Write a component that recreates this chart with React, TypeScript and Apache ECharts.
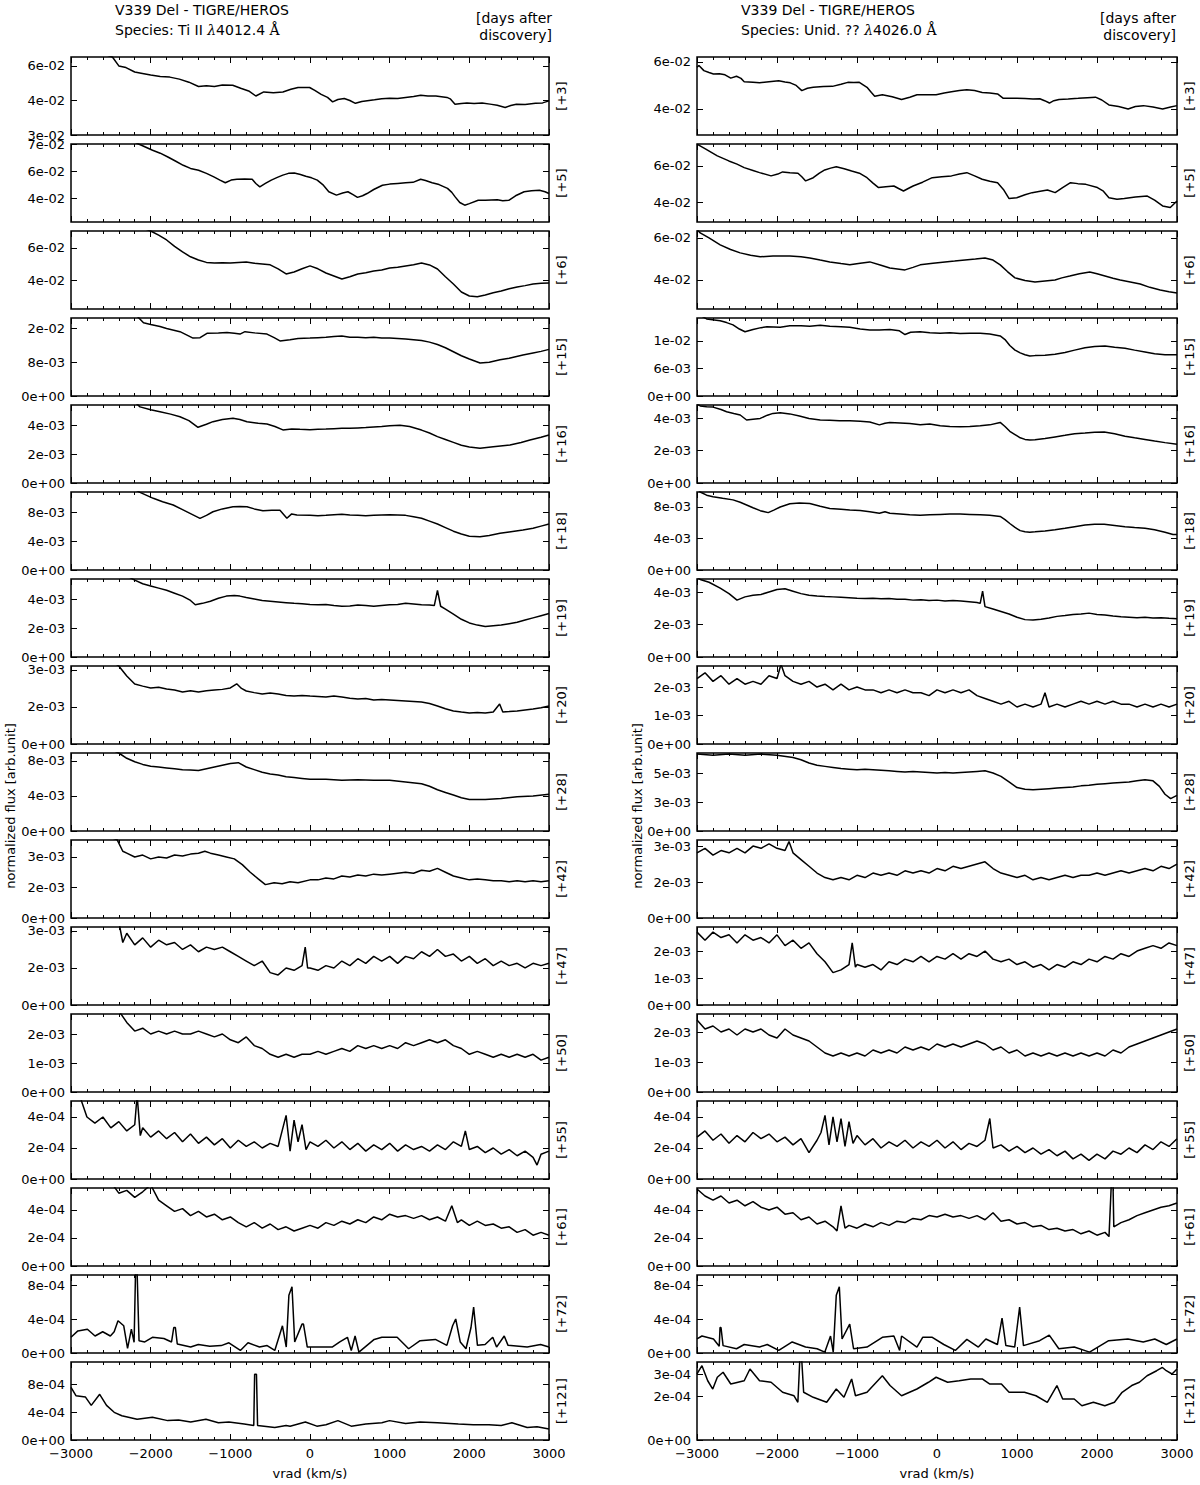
import React, { useEffect, useRef } from "react";
import * as echarts from "echarts";

// ---------- tick / label data ----------
const X_TICKS = [-3000, -2000, -1000, 0, 1000, 2000, 3000];
const DAYS = ["+3", "+5", "+6", "+15", "+16", "+18", "+19", "+20", "+28", "+42", "+47", "+50", "+55", "+61", "+72", "+121"];
const TITLE_L = "Species: Ti II {l|λ}4012.4 {a|Å}";
const TITLE_R = "Species: Unid. ?? {l|λ}4026.0 {a|Å}";

// ---------- LEFT column spectra: [vrad km/s, flux in panel unit] ----------
const L1 = [[-3000,7.5],[-2800,7.1],[-2600,6.6],[-2480,6.44],[-2400,6.0],[-2310,5.92],[-2200,5.7],[-2120,5.64],[-2000,5.55],[-1880,5.48],[-1760,5.45],[-1640,5.35],[-1520,5.2],[-1400,4.99],[-1300,5.02],[-1200,4.99],[-1100,5.06],[-970,5.05],[-870,4.9],[-770,4.77],[-680,4.52],[-580,4.72],[-460,4.68],[-340,4.72],[-240,4.85],[-150,4.94],[-5,4.94],[60,4.8],[140,4.6],[220,4.45],[284,4.23],[350,4.35],[430,4.4],[500,4.3],[570,4.16],[650,4.25],[810,4.33],[900,4.38],[1000,4.41],[1100,4.4],[1200,4.45],[1300,4.5],[1390,4.56],[1480,4.52],[1580,4.52],[1720,4.45],[1760,4.38],[1820,4.11],[1900,4.15],[1970,4.18],[2060,4.15],[2160,4.18],[2260,4.12],[2350,4.06],[2450,3.95],[2520,4.05],[2590,4.11],[2700,4.1],[2830,4.16],[2920,4.18],[3000,4.28]];
const L2 = [[-3000,8.0],[-2500,7.4],[-2144,6.8],[-1976,6.53],[-1880,6.4],[-1784,6.23],[-1690,6.05],[-1591,5.86],[-1500,5.72],[-1399,5.64],[-1300,5.5],[-1207,5.34],[-1130,5.2],[-1063,5.08],[-990,5.2],[-918,5.24],[-820,5.25],[-726,5.24],[-680,5.05],[-630,4.9],[-560,5.05],[-486,5.2],[-410,5.32],[-341,5.42],[-270,5.5],[-197,5.52],[-120,5.45],[-53,5.37],[20,5.3],[91,5.2],[160,5.0],[236,4.68],[332,4.53],[410,4.62],[476,4.68],[540,4.55],[596,4.43],[660,4.5],[716,4.6],[800,4.78],[909,4.97],[1000,5.02],[1101,5.05],[1200,5.08],[1293,5.1],[1389,5.24],[1450,5.18],[1533,5.08],[1620,5.0],[1726,4.83],[1780,4.65],[1822,4.45],[1880,4.2],[1942,4.08],[2000,4.15],[2111,4.3],[2200,4.3],[2351,4.32],[2420,4.28],[2495,4.3],[2580,4.5],[2688,4.68],[2780,4.72],[2880,4.75],[2950,4.68],[3000,4.6]];
const L3 = [[-3000,8.1],[-2400,7.8],[-2000,7.06],[-1900,6.8],[-1800,6.5],[-1700,6.1],[-1600,5.75],[-1500,5.45],[-1400,5.25],[-1300,5.1],[-1200,5.06],[-1100,5.08],[-1000,5.06],[-900,5.1],[-800,5.13],[-700,5.05],[-600,5.0],[-500,4.95],[-400,4.69],[-300,4.38],[-200,4.5],[-100,4.7],[0,4.88],[100,4.7],[200,4.44],[300,4.25],[400,4.06],[500,4.2],[600,4.38],[700,4.45],[800,4.56],[900,4.62],[1000,4.75],[1100,4.8],[1200,4.88],[1300,4.95],[1400,5.06],[1500,4.94],[1600,4.69],[1700,4.2],[1800,3.75],[1900,3.25],[2000,3.0],[2100,2.95],[2200,3.06],[2300,3.2],[2400,3.31],[2500,3.45],[2600,3.56],[2700,3.65],[2800,3.75],[2900,3.8],[3000,3.81]];
const L4 = [[-3000,24],[-2200,20.5],[-2090,18.2],[-2000,17.8],[-1883,17.3],[-1800,16.8],[-1632,16.0],[-1550,15.2],[-1469,14.4],[-1380,14.5],[-1293,15.6],[-1150,15.7],[-1042,15.8],[-950,15.6],[-879,15.4],[-816,16.0],[-700,15.7],[-540,15.4],[-450,14.5],[-377,13.7],[-251,14.0],[-150,14.3],[0,14.4],[100,14.5],[200,14.6],[300,14.8],[400,14.9],[500,14.6],[600,14.6],[700,14.5],[800,14.6],[900,14.4],[1000,14.4],[1100,14.3],[1200,14.2],[1300,14.0],[1400,13.8],[1500,13.4],[1600,12.8],[1700,12.0],[1800,11.0],[1900,10.0],[2000,9.2],[2135,8.2],[2250,8.4],[2385,9.0],[2500,9.4],[2673,10.2],[2800,10.7],[2900,11.1],[3000,11.6]];
const L5 = [[-3000,6.8],[-2200,5.6],[-2134,5.25],[-2000,5.05],[-1883,4.92],[-1750,4.75],[-1632,4.57],[-1520,4.3],[-1406,3.84],[-1300,4.05],[-1218,4.23],[-1100,4.38],[-967,4.46],[-880,4.38],[-791,4.23],[-650,4.12],[-540,4.07],[-440,3.9],[-340,3.66],[-230,3.72],[-126,3.7],[0,3.68],[100,3.7],[200,3.72],[300,3.75],[400,3.78],[500,3.78],[600,3.8],[700,3.82],[800,3.86],[900,3.9],[1000,3.95],[1130,3.98],[1250,3.9],[1400,3.65],[1500,3.45],[1600,3.2],[1700,3.0],[1800,2.8],[1900,2.6],[2000,2.48],[2134,2.4],[2300,2.5],[2510,2.62],[2650,2.8],[2761,2.97],[2900,3.15],[3000,3.31]];
const L6 = [[-3000,13],[-2200,11.2],[-2134,10.8],[-1967,9.97],[-1850,9.5],[-1717,9.04],[-1600,8.4],[-1506,7.88],[-1381,7.19],[-1300,7.6],[-1218,8.1],[-1100,8.5],[-967,8.8],[-880,8.85],[-791,8.8],[-700,8.5],[-591,8.24],[-480,8.3],[-377,8.3],[-290,7.2],[-230,7.8],[-165,7.65],[0,7.6],[100,7.55],[200,7.6],[300,7.7],[400,7.75],[500,7.65],[600,7.6],[700,7.55],[800,7.6],[900,7.65],[1000,7.7],[1100,7.65],[1200,7.6],[1300,7.4],[1400,7.2],[1500,6.8],[1600,6.4],[1700,5.9],[1800,5.4],[1900,5.0],[2000,4.7],[2134,4.63],[2250,4.8],[2385,5.1],[2500,5.3],[2673,5.56],[2800,5.8],[2900,6.1],[3000,6.4]];
const L7 = [[-3000,6.2],[-2300,5.6],[-2200,5.3],[-2100,5.05],[-2000,4.9],[-1900,4.75],[-1800,4.6],[-1700,4.4],[-1600,4.2],[-1500,3.9],[-1440,3.6],[-1350,3.7],[-1250,3.85],[-1150,4.05],[-1050,4.2],[-950,4.25],[-880,4.2],[-800,4.1],[-700,4.0],[-600,3.9],[-500,3.85],[-400,3.8],[-300,3.75],[-200,3.7],[-100,3.68],[0,3.62],[100,3.6],[200,3.62],[300,3.55],[400,3.5],[500,3.52],[600,3.58],[700,3.55],[800,3.5],[900,3.55],[1000,3.6],[1100,3.62],[1200,3.7],[1300,3.65],[1400,3.6],[1500,3.58],[1560,3.55],[1600,4.6],[1640,3.5],[1700,3.3],[1800,2.95],[1900,2.6],[2000,2.35],[2100,2.2],[2200,2.1],[2300,2.15],[2400,2.2],[2500,2.3],[2600,2.4],[2700,2.55],[2800,2.7],[2900,2.85],[3000,3.0]];
const L8 = [[-3000,4.2],[-2500,3.6],[-2400,3.37],[-2300,2.94],[-2200,2.59],[-2100,2.5],[-2000,2.42],[-1900,2.45],[-1800,2.38],[-1700,2.33],[-1600,2.25],[-1500,2.3],[-1400,2.25],[-1300,2.3],[-1200,2.33],[-1100,2.36],[-1000,2.42],[-920,2.6],[-860,2.4],[-800,2.29],[-700,2.22],[-600,2.16],[-500,2.2],[-400,2.16],[-300,2.1],[-200,2.07],[-100,2.1],[0,2.07],[100,2.05],[200,2.03],[300,2.07],[400,2.03],[500,1.98],[600,1.94],[700,1.97],[800,1.9],[900,1.92],[1000,1.9],[1100,1.88],[1200,1.86],[1300,1.84],[1400,1.81],[1500,1.75],[1600,1.64],[1700,1.52],[1800,1.43],[1900,1.38],[2000,1.34],[2100,1.36],[2200,1.34],[2300,1.38],[2380,1.73],[2420,1.38],[2500,1.4],[2600,1.43],[2700,1.47],[2800,1.51],[2900,1.57],[3000,1.64]];
const L9 = [[-3000,11],[-2500,9.3],[-2400,8.9],[-2300,8.3],[-2200,7.9],[-2100,7.6],[-2000,7.4],[-1900,7.3],[-1800,7.2],[-1700,7.1],[-1600,7.0],[-1500,6.95],[-1400,6.9],[-1300,7.1],[-1200,7.3],[-1100,7.5],[-1000,7.7],[-900,7.8],[-800,7.3],[-700,7.0],[-600,6.7],[-500,6.5],[-400,6.4],[-300,6.2],[-200,6.1],[-100,6.0],[0,5.9],[200,5.9],[400,5.8],[600,5.85],[800,5.8],[1000,5.8],[1200,5.6],[1400,5.4],[1500,5.1],[1600,4.7],[1700,4.4],[1800,4.1],[1900,3.8],[2000,3.6],[2200,3.6],[2400,3.7],[2600,3.9],[2800,4.0],[3000,4.2]];
const L10 = [[-3000,5.0],[-2420,4.1],[-2350,3.5],[-2300,3.4],[-2200,3.2],[-2100,3.3],[-2000,3.1],[-1900,3.2],[-1800,3.15],[-1700,3.3],[-1600,3.25],[-1500,3.35],[-1400,3.4],[-1320,3.5],[-1250,3.4],[-1150,3.3],[-1050,3.2],[-950,3.1],[-850,2.8],[-750,2.4],[-650,2.05],[-560,1.75],[-450,1.85],[-350,1.8],[-250,1.9],[-150,1.85],[0,2.0],[100,2.0],[200,2.1],[300,2.05],[400,2.2],[500,2.15],[600,2.25],[700,2.2],[800,2.3],[900,2.25],[1000,2.3],[1100,2.35],[1200,2.4],[1300,2.35],[1400,2.5],[1500,2.45],[1600,2.6],[1700,2.4],[1800,2.2],[1900,2.1],[2000,2.0],[2100,2.05],[2200,2.0],[2300,1.95],[2400,1.95],[2500,1.9],[2600,1.95],[2700,1.9],[2800,1.95],[2900,1.9],[3000,1.95]];
const L11 = [[-3000,4.5],[-2500,4.2],[-2400,3.6],[-2350,2.7],[-2300,3.1],[-2200,2.6],[-2100,2.9],[-2000,2.5],[-1900,2.8],[-1800,2.6],[-1700,2.7],[-1600,2.4],[-1500,2.6],[-1400,2.3],[-1300,2.5],[-1200,2.4],[-1100,2.5],[-1000,2.3],[-900,2.1],[-800,1.9],[-700,1.7],[-600,1.9],[-500,1.4],[-400,1.3],[-300,1.6],[-200,1.5],[-100,1.7],[-60,2.5],[-30,1.6],[0,1.6],[100,1.5],[200,1.7],[300,1.6],[400,1.9],[500,1.7],[600,2.0],[700,1.8],[800,2.1],[900,1.9],[1000,2.1],[1100,1.8],[1200,2.1],[1300,2.0],[1400,2.3],[1500,2.1],[1600,2.4],[1700,2.1],[1800,2.2],[1900,1.9],[2000,2.1],[2100,1.8],[2200,2.0],[2300,1.7],[2400,1.9],[2500,1.7],[2600,1.8],[2700,1.6],[2800,1.8],[2900,1.7],[3000,1.8]];
const L12 = [[-3000,3.5],[-2400,2.8],[-2300,2.4],[-2200,2.1],[-2100,2.2],[-2000,2.0],[-1900,2.1],[-1800,2.0],[-1700,2.1],[-1600,2.0],[-1500,2.0],[-1400,2.1],[-1300,2.0],[-1200,1.9],[-1100,2.0],[-1000,1.8],[-900,1.7],[-800,1.9],[-700,1.6],[-600,1.5],[-500,1.3],[-400,1.2],[-300,1.3],[-200,1.2],[-100,1.3],[0,1.3],[100,1.4],[200,1.3],[300,1.4],[400,1.5],[500,1.4],[600,1.6],[700,1.5],[800,1.6],[900,1.5],[1000,1.6],[1100,1.5],[1200,1.7],[1300,1.6],[1400,1.7],[1500,1.8],[1600,1.7],[1700,1.8],[1800,1.6],[1900,1.5],[2000,1.3],[2100,1.4],[2200,1.3],[2300,1.2],[2400,1.3],[2500,1.2],[2600,1.3],[2700,1.2],[2800,1.3],[2900,1.1],[3000,1.2]];
const L13 = [[-3000,6],[-2900,5.5],[-2800,4.0],[-2700,3.6],[-2600,4.0],[-2500,3.3],[-2400,3.7],[-2300,3.1],[-2200,3.5],[-2170,5.4],[-2130,2.8],[-2100,3.3],[-2000,2.7],[-1900,3.1],[-1800,2.6],[-1700,3.0],[-1600,2.4],[-1500,2.9],[-1400,2.3],[-1300,2.7],[-1200,2.2],[-1100,2.6],[-1000,2.0],[-900,2.5],[-800,2.1],[-700,2.4],[-600,2.0],[-500,2.3],[-400,2.1],[-300,4.1],[-250,1.8],[-200,3.8],[-150,2.4],[-100,3.5],[-50,1.9],[0,2.4],[100,2.1],[200,2.5],[300,2.0],[400,2.4],[500,1.9],[600,2.3],[700,1.8],[800,2.2],[900,1.9],[1000,2.3],[1100,1.8],[1200,2.2],[1300,1.9],[1400,2.1],[1500,1.8],[1600,2.2],[1700,1.9],[1800,2.4],[1900,2.1],[1950,3.1],[2000,1.9],[2100,2.1],[2200,1.7],[2300,2.0],[2400,1.6],[2500,1.9],[2600,1.5],[2700,1.8],[2800,1.4],[2850,0.9],[2900,1.6],[3000,1.8]];
const L14 = [[-3000,7],[-2500,6],[-2400,5.2],[-2300,5.4],[-2200,4.9],[-2100,5.3],[-2000,5.8],[-1900,4.7],[-1800,4.3],[-1700,3.9],[-1600,4.1],[-1500,3.6],[-1400,3.9],[-1300,3.5],[-1200,3.7],[-1100,3.3],[-1000,3.5],[-900,3.1],[-800,2.8],[-700,3.1],[-600,2.7],[-500,3.0],[-400,2.6],[-300,2.8],[-200,2.5],[-100,2.7],[0,2.9],[100,2.7],[200,3.1],[300,2.9],[400,3.2],[500,3.0],[600,3.3],[700,3.1],[800,3.5],[900,3.3],[1000,3.7],[1100,3.5],[1200,3.6],[1300,3.4],[1400,3.6],[1500,3.3],[1600,3.5],[1700,3.2],[1780,4.3],[1850,3.1],[1900,3.3],[2000,2.9],[2100,3.2],[2200,2.9],[2300,3.0],[2400,2.7],[2500,2.8],[2600,2.4],[2700,2.6],[2800,2.2],[2900,2.4],[3000,2.2]];
const L15 = [[-3000,1.85],[-2914,2.6],[-2794,2.8],[-2698,2.0],[-2602,2.5],[-2506,2.0],[-2458,2.5],[-2410,3.8],[-2338,3.2],[-2290,0.55],[-2242,2.8],[-2208,1.26],[-2190,9.5],[-2170,9.5],[-2146,1.45],[-2074,1.3],[-1978,1.85],[-1834,1.7],[-1738,1.3],[-1710,3.0],[-1690,3.0],[-1666,1.06],[-1498,0.7],[-1402,1.0],[-1258,0.8],[-1114,0.87],[-1018,1.2],[-874,0.3],[-778,1.2],[-634,0.7],[-538,0.87],[-442,0.3],[-346,3.2],[-298,0.7],[-265,6.8],[-226,7.8],[-192,1.3],[-100,3.4],[-82,3.4],[-34,0.7],[86,0.7],[278,0.7],[374,1.3],[470,1.85],[518,0.3],[566,2.0],[614,0.1],[806,1.6],[902,1.85],[1094,1.85],[1238,0.5],[1382,1.45],[1574,1.6],[1718,0.9],[1790,3.2],[1829,4.0],[1886,1.3],[1958,0.5],[2021,3.0],[2054,5.4],[2102,0.9],[2198,1.0],[2294,1.85],[2342,0.7],[2438,2.0],[2486,0.9],[2726,0.7],[2894,1.0],[3000,0.7]];
const L16 = [[-3000,7.6],[-2938,6.4],[-2818,6.2],[-2746,5.0],[-2640,6.6],[-2554,5.0],[-2458,4.0],[-2362,3.5],[-2170,3.0],[-1978,3.3],[-1786,2.8],[-1650,2.9],[-1498,2.6],[-1306,3.0],[-1150,2.5],[-1018,2.6],[-826,2.3],[-706,2.1],[-695,9.5],[-672,9.5],[-658,2.1],[-442,1.8],[-300,2.1],[-250,2.0],[-58,2.6],[86,2.0],[200,2.2],[350,2.8],[518,2.0],[700,2.3],[902,2.5],[998,2.8],[1200,2.4],[1382,2.6],[1600,2.5],[1862,2.3],[2050,2.2],[2246,2.2],[2400,2.1],[2534,2.5],[2726,1.8],[2850,1.9],[3000,1.6]];

// ---------- RIGHT column spectra ----------
const R1 = [[-3000,5.77],[-2976,5.85],[-2914,5.63],[-2850,5.55],[-2794,5.49],[-2720,5.5],[-2650,5.45],[-2578,5.31],[-2506,5.39],[-2450,5.3],[-2410,5.16],[-2300,5.14],[-2218,5.11],[-2100,5.16],[-1979,5.2],[-1900,5.15],[-1834,5.11],[-1760,5.0],[-1690,4.78],[-1620,4.88],[-1547,4.92],[-1420,4.95],[-1307,4.96],[-1200,5.05],[-1115,5.13],[-1040,5.12],[-971,5.13],[-875,4.92],[-820,4.7],[-779,4.54],[-683,4.6],[-560,4.52],[-443,4.4],[-340,4.5],[-250,4.6],[-130,4.6],[-11,4.6],[90,4.68],[181,4.73],[280,4.78],[373,4.82],[470,4.78],[565,4.7],[660,4.68],[757,4.64],[829,4.45],[920,4.45],[997,4.45],[1100,4.44],[1200,4.42],[1285,4.43],[1345,4.35],[1405,4.25],[1460,4.35],[1525,4.4],[1640,4.42],[1765,4.45],[1880,4.48],[1981,4.5],[2060,4.38],[2149,4.17],[2270,4.1],[2389,4.0],[2480,4.1],[2580,4.14],[2700,4.08],[2820,4.0],[2920,4.08],[3000,4.14]];
const R2 = [[-3000,7.21],[-2890,6.93],[-2746,6.56],[-2602,6.28],[-2500,6.1],[-2410,5.91],[-2300,5.75],[-2218,5.63],[-2074,5.45],[-1990,5.55],[-1930,5.67],[-1840,5.62],[-1738,5.6],[-1690,5.4],[-1642,5.17],[-1547,5.35],[-1470,5.6],[-1403,5.78],[-1330,5.88],[-1259,5.96],[-1160,5.85],[-1067,5.72],[-970,5.6],[-875,5.35],[-800,5.05],[-731,4.8],[-640,4.85],[-539,4.89],[-480,4.75],[-419,4.61],[-360,4.75],[-299,4.89],[-180,5.1],[-59,5.35],[60,5.4],[181,5.45],[280,5.55],[373,5.63],[470,5.45],[565,5.26],[660,5.15],[757,5.07],[830,4.7],[901,4.19],[997,4.24],[1100,4.4],[1189,4.52],[1290,4.6],[1381,4.67],[1477,4.52],[1570,4.8],[1669,5.07],[1760,5.02],[1861,4.98],[2005,4.8],[2080,4.6],[2149,4.24],[2250,4.15],[2341,4.19],[2480,4.28],[2629,4.33],[2720,4.1],[2820,3.78],[2916,3.69],[3000,4.06]];
const R3 = [[-3000,6.4],[-2960,6.24],[-2850,6.0],[-2710,5.67],[-2580,5.45],[-2460,5.29],[-2330,5.18],[-2210,5.1],[-2050,5.14],[-1840,5.14],[-1700,5.1],[-1590,5.05],[-1460,4.95],[-1340,4.86],[-1200,4.78],[-1090,4.72],[-960,4.8],[-840,4.86],[-700,4.7],[-590,4.57],[-400,4.48],[-300,4.6],[-210,4.72],[-50,4.8],[100,4.86],[220,4.9],[350,4.95],[480,5.0],[600,5.05],[700,4.95],[790,4.72],[880,4.4],[975,4.1],[1100,3.98],[1225,3.9],[1350,3.95],[1475,4.0],[1560,4.1],[1660,4.19],[1780,4.3],[1910,4.38],[2000,4.3],[2100,4.19],[2200,4.08],[2290,4.0],[2400,3.92],[2540,3.81],[2660,3.65],[2790,3.52],[2900,3.44],[3000,3.38]];
const R4 = [[-3000,18],[-2880,16.8],[-2710,16.4],[-2630,16.0],[-2550,15.5],[-2470,14.6],[-2400,14.0],[-2300,14.5],[-2200,14.9],[-2125,15.1],[-1960,15.0],[-1840,15.3],[-1700,15.3],[-1590,15.2],[-1460,15.4],[-1340,15.2],[-1200,15.1],[-1090,15.0],[-960,14.6],[-840,14.4],[-720,14.4],[-590,14.5],[-470,14.2],[-400,13.4],[-330,13.9],[-210,14.0],[-90,13.8],[40,13.7],[160,13.8],[290,13.6],[410,13.7],[540,13.7],[660,13.5],[790,13.1],[850,12.3],[910,11.0],[975,10.0],[1040,9.4],[1100,9.0],[1160,8.7],[1225,8.8],[1350,8.9],[1475,9.1],[1600,9.5],[1720,10.0],[1850,10.5],[1970,10.8],[2100,10.9],[2220,10.6],[2350,10.4],[2470,10.0],[2600,9.6],[2720,9.2],[2850,9.0],[3000,9.0]];
const R5 = [[-3000,4.9],[-2960,4.77],[-2880,4.72],[-2800,4.7],[-2700,4.55],[-2630,4.41],[-2540,4.3],[-2460,4.21],[-2380,3.9],[-2300,3.95],[-2210,4.0],[-2120,4.2],[-2050,4.31],[-1960,4.35],[-1840,4.28],[-1720,4.15],[-1600,4.0],[-1460,3.9],[-1340,3.88],[-1220,3.85],[-1090,3.86],[-960,3.82],[-840,3.78],[-720,3.6],[-650,3.7],[-590,3.75],[-460,3.72],[-340,3.68],[-210,3.6],[-90,3.65],[40,3.55],[160,3.5],[290,3.48],[410,3.5],[540,3.55],[660,3.6],[790,3.75],[850,3.5],[910,3.2],[975,3.0],[1040,2.8],[1100,2.7],[1160,2.66],[1225,2.68],[1350,2.75],[1475,2.85],[1600,2.95],[1720,3.05],[1850,3.1],[1970,3.15],[2090,3.16],[2220,3.05],[2350,2.9],[2470,2.8],[2600,2.7],[2720,2.6],[2850,2.5],[3000,2.4]];
const R6 = [[-3000,10.4],[-2960,9.9],[-2880,9.5],[-2800,9.3],[-2680,9.1],[-2550,8.9],[-2460,8.6],[-2380,8.25],[-2300,7.9],[-2210,7.53],[-2110,7.28],[-2040,7.6],[-1960,8.0],[-1840,8.4],[-1720,8.5],[-1590,8.45],[-1460,8.1],[-1340,7.8],[-1200,7.7],[-1090,7.6],[-960,7.55],[-840,7.4],[-720,7.2],[-650,7.4],[-590,7.2],[-460,7.1],[-340,7.0],[-210,6.95],[-90,7.0],[40,7.05],[160,7.1],[290,7.1],[410,7.05],[540,7.0],[660,6.95],[790,6.8],[850,6.4],[910,5.9],[975,5.4],[1040,5.0],[1100,4.85],[1160,4.8],[1225,4.85],[1350,4.95],[1475,5.1],[1600,5.3],[1720,5.5],[1850,5.7],[1970,5.8],[2090,5.8],[2220,5.65],[2350,5.5],[2470,5.4],[2600,5.3],[2720,5.1],[2850,4.8],[2950,4.5],[3000,4.5]];
const R7 = [[-3000,4.9],[-2950,4.75],[-2850,4.6],[-2710,4.24],[-2600,3.9],[-2500,3.5],[-2400,3.7],[-2300,3.8],[-2200,3.85],[-2100,4.0],[-2000,4.15],[-1900,4.2],[-1800,4.05],[-1700,3.9],[-1600,3.8],[-1500,3.75],[-1400,3.72],[-1300,3.7],[-1200,3.68],[-1100,3.65],[-1000,3.62],[-900,3.6],[-800,3.62],[-700,3.58],[-600,3.6],[-500,3.55],[-400,3.55],[-300,3.5],[-200,3.52],[-100,3.48],[0,3.5],[100,3.45],[200,3.48],[300,3.45],[400,3.4],[500,3.35],[540,3.3],[570,4.05],[600,3.1],[700,2.95],[800,2.8],[900,2.65],[1000,2.45],[1100,2.3],[1200,2.28],[1300,2.32],[1400,2.4],[1500,2.5],[1600,2.55],[1700,2.62],[1800,2.65],[1900,2.7],[2000,2.62],[2100,2.58],[2200,2.52],[2300,2.48],[2400,2.45],[2500,2.42],[2600,2.44],[2700,2.4],[2800,2.42],[2900,2.38],[3000,2.35]];
const R8 = [[-3000,2.3],[-2900,2.5],[-2800,2.2],[-2700,2.4],[-2600,2.1],[-2500,2.3],[-2400,2.1],[-2300,2.2],[-2200,2.1],[-2100,2.4],[-2000,2.3],[-1950,2.8],[-1900,2.4],[-1800,2.2],[-1700,2.1],[-1600,2.2],[-1500,2.0],[-1400,2.1],[-1300,1.9],[-1200,2.1],[-1100,1.9],[-1000,2.0],[-900,1.9],[-800,1.9],[-700,1.8],[-600,1.9],[-500,1.8],[-400,1.9],[-300,1.8],[-200,1.8],[-100,1.7],[0,1.9],[100,1.8],[200,1.9],[300,1.8],[400,1.9],[500,1.7],[600,1.6],[700,1.5],[800,1.4],[900,1.5],[1000,1.3],[1100,1.4],[1200,1.3],[1300,1.4],[1350,1.8],[1400,1.3],[1500,1.4],[1600,1.3],[1700,1.4],[1800,1.5],[1900,1.4],[2000,1.5],[2100,1.4],[2200,1.5],[2300,1.4],[2400,1.4],[2500,1.3],[2600,1.4],[2700,1.3],[2800,1.4],[2900,1.3],[3000,1.4]];
const R9 = [[-3000,6.9],[-2800,6.8],[-2600,6.9],[-2400,6.8],[-2200,6.9],[-2000,6.8],[-1800,6.6],[-1700,6.4],[-1600,6.1],[-1500,5.9],[-1400,5.8],[-1300,5.7],[-1200,5.6],[-1100,5.55],[-1000,5.5],[-900,5.55],[-800,5.5],[-700,5.45],[-600,5.4],[-500,5.35],[-400,5.3],[-300,5.35],[-200,5.3],[-100,5.25],[0,5.2],[100,5.25],[200,5.2],[300,5.25],[400,5.3],[500,5.35],[600,5.4],[700,5.2],[800,4.9],[900,4.4],[1000,3.9],[1100,3.75],[1200,3.7],[1300,3.75],[1400,3.8],[1500,3.85],[1600,3.9],[1700,3.95],[1800,4.05],[1900,4.1],[2000,4.2],[2100,4.25],[2200,4.3],[2300,4.35],[2400,4.4],[2500,4.5],[2600,4.6],[2700,4.5],[2780,4.0],[2850,3.3],[2920,2.9],[3000,3.2]];
const R10 = [[-3000,2.9],[-2900,3.1],[-2800,2.8],[-2700,3.0],[-2600,2.9],[-2500,3.1],[-2400,2.9],[-2300,3.2],[-2200,3.1],[-2100,3.3],[-2000,3.1],[-1900,3.0],[-1850,3.4],[-1800,2.9],[-1700,2.6],[-1600,2.3],[-1500,2.0],[-1400,1.8],[-1300,1.7],[-1200,1.8],[-1100,1.7],[-1000,1.9],[-900,1.8],[-800,2.0],[-700,1.9],[-600,2.0],[-500,1.9],[-400,2.1],[-300,2.0],[-200,2.1],[-100,2.0],[0,2.2],[100,2.1],[200,2.3],[300,2.2],[400,2.3],[500,2.4],[600,2.5],[700,2.2],[800,2.0],[900,1.9],[1000,1.8],[1100,1.9],[1200,1.7],[1300,1.8],[1400,1.7],[1500,1.8],[1600,1.9],[1700,1.8],[1800,1.9],[1900,1.9],[2000,2.0],[2100,1.9],[2200,2.0],[2300,2.1],[2400,2.0],[2500,2.1],[2600,2.2],[2700,2.1],[2800,2.3],[2900,2.2],[3000,2.4]];
const R11 = [[-3000,2.7],[-2900,2.4],[-2800,2.7],[-2700,2.5],[-2600,2.6],[-2500,2.3],[-2400,2.6],[-2300,2.4],[-2200,2.5],[-2100,2.3],[-2000,2.6],[-1900,2.2],[-1800,2.4],[-1700,2.1],[-1600,2.3],[-1500,1.9],[-1400,1.6],[-1300,1.2],[-1200,1.3],[-1100,1.5],[-1060,2.3],[-1020,1.4],[-1000,1.5],[-900,1.4],[-800,1.5],[-700,1.3],[-600,1.6],[-500,1.5],[-400,1.7],[-300,1.6],[-200,1.8],[-100,1.6],[0,1.8],[100,1.7],[200,1.9],[300,1.7],[400,1.9],[500,1.8],[600,2.0],[700,1.7],[800,1.6],[900,1.7],[1000,1.5],[1100,1.6],[1200,1.4],[1300,1.5],[1400,1.3],[1500,1.5],[1600,1.4],[1700,1.6],[1800,1.5],[1900,1.7],[2000,1.6],[2100,1.8],[2200,1.7],[2300,1.9],[2400,1.8],[2500,2.0],[2600,2.1],[2700,2.2],[2800,2.1],[2900,2.3],[3000,2.2]];
const R12 = [[-3000,2.4],[-2900,2.1],[-2800,2.2],[-2700,2.0],[-2600,2.1],[-2500,1.9],[-2400,2.1],[-2300,2.0],[-2200,2.1],[-2100,1.9],[-2000,1.8],[-1900,2.1],[-1800,1.9],[-1700,1.8],[-1600,1.7],[-1500,1.5],[-1400,1.3],[-1300,1.2],[-1200,1.3],[-1100,1.2],[-1000,1.3],[-900,1.2],[-800,1.4],[-700,1.3],[-600,1.4],[-500,1.3],[-400,1.5],[-300,1.4],[-200,1.5],[-100,1.4],[0,1.6],[100,1.5],[200,1.6],[300,1.5],[400,1.6],[500,1.7],[600,1.6],[700,1.4],[800,1.5],[900,1.3],[1000,1.4],[1100,1.2],[1200,1.3],[1300,1.2],[1400,1.3],[1500,1.2],[1600,1.3],[1700,1.2],[1800,1.3],[1900,1.2],[2000,1.3],[2100,1.2],[2200,1.4],[2300,1.3],[2400,1.5],[2500,1.6],[2600,1.7],[2700,1.8],[2800,1.9],[2900,2.0],[3000,2.1]];
const R13 = [[-3000,2.7],[-2900,3.1],[-2800,2.5],[-2700,2.9],[-2600,2.3],[-2500,2.8],[-2400,2.4],[-2300,3.0],[-2200,2.6],[-2100,2.9],[-2000,2.4],[-1900,2.7],[-1800,2.2],[-1700,2.6],[-1600,1.7],[-1500,2.5],[-1450,3.0],[-1400,4.1],[-1350,2.2],[-1300,4.0],[-1250,2.4],[-1200,3.9],[-1150,2.1],[-1100,3.7],[-1050,2.3],[-1000,2.8],[-900,2.2],[-800,2.6],[-700,2.0],[-600,2.4],[-500,2.1],[-400,2.5],[-300,2.0],[-200,2.4],[-100,2.1],[0,2.5],[100,2.0],[200,2.4],[300,1.9],[400,2.3],[500,2.1],[600,2.5],[660,3.9],[700,2.0],[800,2.2],[900,1.8],[1000,2.1],[1100,1.7],[1200,2.0],[1300,1.6],[1400,1.9],[1500,1.5],[1600,1.8],[1700,1.3],[1800,1.6],[1900,1.2],[2000,1.6],[2100,1.3],[2200,1.8],[2300,1.6],[2400,2.0],[2500,1.7],[2600,2.2],[2700,1.9],[2800,2.4],[2900,2.1],[3000,2.6]];
const R14 = [[-3000,5.5],[-2900,5.0],[-2800,4.7],[-2700,5.0],[-2600,4.5],[-2500,4.7],[-2400,4.3],[-2300,4.6],[-2200,4.2],[-2100,4.0],[-2000,4.2],[-1900,3.7],[-1800,3.8],[-1700,3.3],[-1600,3.5],[-1500,3.0],[-1400,3.2],[-1300,2.8],[-1250,2.5],[-1200,4.3],[-1150,2.7],[-1100,2.9],[-1000,2.7],[-900,3.0],[-800,2.8],[-700,3.1],[-600,2.9],[-500,3.2],[-400,3.1],[-300,3.4],[-200,3.3],[-100,3.6],[0,3.5],[100,3.7],[200,3.5],[300,3.6],[400,3.4],[500,3.6],[600,3.3],[700,3.8],[800,3.2],[900,3.3],[1000,3.0],[1100,3.1],[1200,2.8],[1300,2.9],[1400,2.6],[1500,2.7],[1600,2.5],[1700,2.6],[1800,2.3],[1900,2.5],[2000,2.2],[2100,2.4],[2150,2.1],[2180,6.0],[2200,6.0],[2210,2.8],[2300,3.1],[2400,3.3],[2500,3.6],[2600,3.8],[2700,4.0],[2800,4.2],[2900,4.3],[3000,4.5]];
const R15 = [[-3000,1.65],[-2938,2.0],[-2794,1.65],[-2722,0.8],[-2712,3.0],[-2700,3.0],[-2674,0.87],[-2506,0.5],[-2410,1.0],[-2218,0.7],[-2122,1.0],[-1978,0.3],[-1810,1.3],[-1643,0.7],[-1499,0.5],[-1403,0.1],[-1331,2.0],[-1297,0.1],[-1259,6.8],[-1221,7.8],[-1187,1.65],[-1091,3.4],[-1043,0.5],[-875,0.7],[-683,1.85],[-539,2.0],[-467,0.3],[-443,2.0],[-251,0.7],[-179,1.85],[-59,1.85],[85,1.0],[229,0.3],[373,1.6],[517,0.7],[611,1.65],[755,1.0],[813,4.1],[861,0.87],[971,0.7],[1033,5.4],[1081,0.87],[1283,1.45],[1403,2.1],[1523,0.5],[1715,0.7],[1907,0.1],[2146,1.45],[2386,1.65],[2578,1.3],[2722,1.65],[2866,1.0],[3000,1.65]];
const R16 = [[-3000,3.03],[-2938,3.41],[-2866,2.72],[-2803,2.34],[-2746,2.88],[-2674,3.11],[-2578,2.57],[-2410,2.72],[-2338,3.26],[-2218,2.72],[-2074,2.65],[-1930,2.19],[-1787,2.03],[-1739,1.73],[-1715,3.7],[-1691,3.7],[-1667,2.19],[-1547,1.96],[-1379,1.73],[-1259,2.34],[-1163,1.96],[-1067,2.8],[-1019,2.03],[-875,2.19],[-683,2.95],[-587,2.5],[-443,2.03],[-251,2.34],[-107,2.65],[-11,2.88],[133,2.65],[277,2.72],[421,2.8],[565,2.8],[661,2.57],[805,2.57],[901,2.19],[1093,2.19],[1237,2.03],[1379,1.73],[1499,2.5],[1571,1.88],[1715,1.88],[1811,1.57],[1955,1.73],[2098,1.57],[2218,1.73],[2314,2.19],[2434,2.5],[2530,2.65],[2626,2.95],[2746,3.18],[2818,3.33],[2866,3.18],[2938,3.03],[3000,3.26]];

// ---------- panel axis settings ----------
const LEFT_SERIES = [L1, L2, L3, L4, L5, L6, L7, L8, L9, L10, L11, L12, L13, L14, L15, L16];
const LEFT_UNIT = [1e-2, 1e-2, 1e-2, 1e-3, 1e-3, 1e-3, 1e-3, 1e-3, 1e-3, 1e-3, 1e-3, 1e-3, 1e-4, 1e-4, 1e-4, 1e-4];
const LEFT_YMIN = [0.026, 0.0333, 0.0219, 0, 0, 0, 0, 0, 0, 0, 0, 0, 0, 0, 0, 0];
const LEFT_YMAX = [0.0644, 0.0681, 0.0706, 0.0194, 0.00538, 0.01085, 0.00538, 0.00337, 0.0089, 0.00409, 0.00337, 0.00269, 0.000503, 0.000557, 0.000918, 0.001127];
const LEFT_TICKS = [[0.026, 0.043, 0.06], [0.044, 0.056, 0.068], [0.04, 0.06], [0, 0.0084, 0.0168], [0, 0.002, 0.004], [0, 0.004, 0.008], [0, 0.002, 0.004], [0, 0.0016, 0.0032], [0, 0.004, 0.008], [0, 0.0016, 0.0032], [0, 0.0016, 0.0032], [0, 0.001, 0.002], [0, 0.0002, 0.0004], [0, 0.0002, 0.0004], [0, 0.0004, 0.0008], [0, 0.0004, 0.0008]];

const RIGHT_SERIES = [R1, R2, R3, R4, R5, R6, R7, R8, R9, R10, R11, R12, R13, R14, R15, R16];
const RIGHT_UNIT = [1e-2, 1e-2, 1e-2, 1e-3, 1e-3, 1e-3, 1e-3, 1e-3, 1e-3, 1e-3, 1e-3, 1e-3, 1e-4, 1e-4, 1e-4, 1e-4];
const RIGHT_YMIN = [0.0289, 0.0289, 0.0262, 0, 0, 0, 0, 0, 0, 0, 0, 0, 0, 0, 0, 0];
const RIGHT_YMAX = [0.0621, 0.0722, 0.0633, 0.017, 0.00483, 0.0099, 0.0048, 0.00274, 0.007, 0.00347, 0.00289, 0.0026, 0.000503, 0.000557, 0.000918, 0.000358];
const RIGHT_TICKS = [[0.04, 0.06], [0.04, 0.06], [0.04, 0.06], [0, 0.006, 0.012], [0, 0.002, 0.004], [0, 0.004, 0.008], [0, 0.002, 0.004], [0, 0.001, 0.002], [0, 0.0026, 0.0052], [0, 0.0016, 0.0032], [0, 0.001, 0.002], [0, 0.001, 0.002], [0, 0.0002, 0.0004], [0, 0.0002, 0.0004], [0, 0.0004, 0.0008], [0, 0.0002, 0.0003]];

const FONT = "DejaVu Sans";

function sci(v: number): string {
  if (v === 0) return "0e+00";
  const parts = v.toExponential(0).split("e");
  const m = parts[0];
  const e = parts[1];
  const sign = e[0] === "-" ? "-" : "+";
  const n = e.replace(/[+-]/, "").padStart(2, "0");
  return m + "e" + sign + n;
}

function xFmt(v: number): string {
  return v < 0 ? "\u2212" + Math.abs(v) : String(v);
}

function buildOption() {
  const grids: any[] = [];
  const xAxes: any[] = [];
  const yAxes: any[] = [];
  const series: any[] = [];
  const cols = [
    { left: 71, width: 478, S: LEFT_SERIES, U: LEFT_UNIT, MIN: LEFT_YMIN, MAX: LEFT_YMAX, T: LEFT_TICKS },
    { left: 697, width: 480, S: RIGHT_SERIES, U: RIGHT_UNIT, MIN: RIGHT_YMIN, MAX: RIGHT_YMAX, T: RIGHT_TICKS },
  ];
  cols.forEach((col) => {
    col.S.forEach((data, i) => {
      const gi = grids.length;
      const last = i === col.S.length - 1;
      grids.push({
        left: col.left, width: col.width, top: 57 + 87 * i, height: 78,
        show: true, borderColor: "#000", borderWidth: 1.5, backgroundColor: "transparent",
      });
      const tickStyle = { show: true, inside: true, length: 6, lineStyle: { color: "#000", width: 1 } };
      const minor = { show: true, splitNumber: 5, length: 3, lineStyle: { color: "#000", width: 1 } };
      xAxes.push({
        type: "value", gridIndex: gi, min: -3000, max: 3000, interval: 1000, position: "bottom",
        axisLine: { show: false, onZero: false }, axisTick: tickStyle, minorTick: minor,
        splitLine: { show: false }, minorSplitLine: { show: false },
        axisLabel: { show: last, formatter: xFmt, color: "#000", fontSize: 13, fontFamily: FONT, margin: 7, showMinLabel: true, showMaxLabel: true },
        name: last ? "vrad (km/s)" : "", nameLocation: "middle", nameGap: 27,
        nameTextStyle: { color: "#000", fontSize: 13, fontFamily: FONT },
      });
      xAxes.push({
        type: "value", gridIndex: gi, min: -3000, max: 3000, interval: 1000, position: "top",
        axisLine: { show: false, onZero: false }, axisTick: tickStyle, minorTick: minor,
        splitLine: { show: false }, minorSplitLine: { show: false }, axisLabel: { show: false },
      });
      const ticks = col.T[i];
      yAxes.push({
        type: "value", gridIndex: gi, min: col.MIN[i], max: col.MAX[i], position: "left",
        axisLine: { show: false, onZero: false }, splitLine: { show: false },
        axisTick: { show: true, inside: true, length: 6, customValues: ticks, lineStyle: { color: "#000", width: 1 } },
        axisLabel: { show: true, customValues: ticks, formatter: sci, color: "#000", fontSize: 13, fontFamily: FONT, margin: 6 },
      });
      yAxes.push({
        type: "value", gridIndex: gi, min: col.MIN[i], max: col.MAX[i], position: "right",
        axisLine: { show: false, onZero: false }, splitLine: { show: false },
        axisTick: { show: true, inside: true, length: 6, customValues: ticks, lineStyle: { color: "#000", width: 1 } },
        axisLabel: { show: false },
        name: "[" + DAYS[i] + "]", nameLocation: "middle", nameRotate: 90, nameGap: 6,
        nameTextStyle: { color: "#000", fontSize: 13, fontFamily: FONT },
      });
      const unit = col.U[i];
      series.push({
        type: "line", xAxisIndex: 2 * gi, yAxisIndex: 2 * gi,
        data: data.map((p) => [p[0], p[1] * unit]),
        symbol: "none", showSymbol: false, clip: true, silent: true,
        lineStyle: { color: "#000", width: 1.5 },
      });
    });
  });

  const titleText = (x: number, y: number, text: string) => ({
    type: "text", left: x, top: y,
    style: {
      text, fill: "#000", fontSize: 14, fontFamily: FONT,
      rich: {
        l: { fontFamily: "DejaVu Serif", fontStyle: "italic", fontSize: 14, fill: "#000" },
        a: { fontFamily: "DejaVu Serif", fontSize: 14, fill: "#000" },
      },
    },
  });
  const rightText = (r: number, y: number, text: string) => ({
    type: "text", right: r, top: y,
    style: { text, fill: "#000", fontSize: 14, fontFamily: FONT },
  });
  const vText = (x: number, y: number, text: string) => ({
    type: "text", x, y, rotation: Math.PI / 2,
    style: { text, fill: "#000", fontSize: 13, fontFamily: FONT, textAlign: "center", textVerticalAlign: "middle", align: "center", verticalAlign: "middle" },
  });

  const graphic = [
    titleText(115, 3, "V339 Del - TIGRE/HEROS"),
    titleText(115, 23, TITLE_L),
    titleText(741, 3, "V339 Del - TIGRE/HEROS"),
    titleText(741, 23, TITLE_R),
    rightText(1200 - 552, 11, "[days after"),
    rightText(1200 - 552, 28, "discovery]"),
    rightText(1200 - 1176, 11, "[days after"),
    rightText(1200 - 1176, 28, "discovery]"),
    vText(10, 806, "normalized flux [arb.unit]"),
    vText(637, 806, "normalized flux [arb.unit]"),
  ];

  return {
    animation: false,
    backgroundColor: "#fff",
    grid: grids,
    xAxis: xAxes,
    yAxis: yAxes,
    series,
    graphic,
  };
}

export default function App() {
  const ref = useRef<HTMLDivElement>(null);
  useEffect(() => {
    document.body.style.margin = "0";
    if (!ref.current) return;
    const chart = echarts.init(ref.current, undefined, { renderer: "svg" });
    chart.setOption(buildOption() as any);
    return () => chart.dispose();
  }, []);
  return <div ref={ref} style={{ width: 1200, height: 1485 }} />;
}
